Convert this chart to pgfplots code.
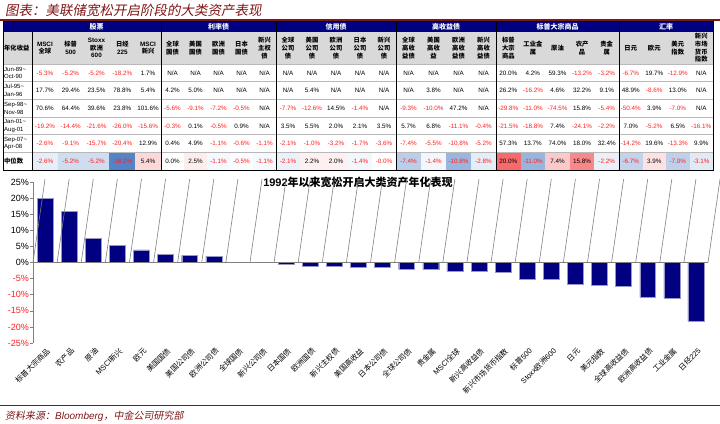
\documentclass[border=0pt]{standalone}
\usepackage{fontspec}
\setmainfont{Liberation Sans}
\newfontfamily\cjk{Noto Sans CJK SC}
\newfontfamily\cjksl[FakeSlant=0.18]{Noto Sans CJK SC}
\usepackage{pgfplots}
\pgfplotsset{compat=1.18}
\newcommand\zh[1]{{\cjk #1}}
\definecolor{hdrblue}{RGB}{0,0,128}
\definecolor{barblue}{RGB}{0,0,128}
\definecolor{titlered}{RGB}{128,22,22}
\definecolor{negblue}{RGB}{84,132,200}
\definecolor{posred}{RGB}{248,105,107}
\definecolor{hdrgray}{RGB}{217,217,217}
\definecolor{numred}{RGB}{255,30,30}
\newcommand\tabfont{\fontsize{6.3}{7}\selectfont}
\def\na{NA}
\def\isneg#1#2\relax{\if#1-\textcolor{numred}{#1#2\%}\else#1#2\%\fi}
\newcommand\valtext[1]{\def\tmp{#1}\ifx\tmp\na N/A\else\isneg#1\relax\fi}
\def\cxs{{44.9,70.7,96.5,122.3,148.1,172.5,195.5,218.5,241.5,264.5,288,312,336,360,384,408.5,433.5,458.5,483.5,508.3,532.9,557.5,582.1,606.7,630.75,654.25,677.75,701.25}}
\def\hws{{12.9,12.9,12.9,12.9,12.9,11.5,11.5,11.5,11.5,11.5,12,12,12,12,12,12.5,12.5,12.5,12.5,12.3,12.3,12.3,12.3,12.3,11.75,11.75,11.75,11.75}}
\newcommand\datarow[2]{%
  \foreach \v [count=\i from 0] in {#2}{%
    \pgfmathsetmacro\cx{\cxs[\i]}%
    \node[font=\tabfont, inner sep=0pt] at (\cx,#1) {\expandafter\valtext\expandafter{\v}};%
  }}
\newcommand\medfill[1]{%
  \foreach \v [count=\i from 0] in {#1}{%
    \pgfmathsetmacro\cx{\cxs[\i]}%
    \pgfmathsetmacro\hw{\hws[\i]}%
    \pgfmathtruncatemacro\pn{max(0,min(100,-100*(\v)/18.2))}%
    \pgfmathtruncatemacro\pp{max(0,min(100,100*(\v)/20))}%
    \ifnum\pn>0 \fill[negblue!\pn!white] (\cx-\hw,152.3) rectangle (\cx+\hw,170);\fi
    \ifnum\pp>0 \fill[posred!\pp!white] (\cx-\hw,152.3) rectangle (\cx+\hw,170);\fi
  }}
\begin{document}
\begin{tikzpicture}
\useasboundingbox (0,0) rectangle (720pt,-423pt);
% title and rules
\node[anchor=west, text=titlered, font=\cjksl\fontsize{13.5}{14}\selectfont, inner sep=0pt] at (5pt,-10pt) {图表：美联储宽松开启阶段的大类资产表现};
\draw[titlered, line width=1.2pt] (0pt,-20pt) -- (720pt,-20pt);
\draw[titlered, line width=1.5pt] (0pt,-405.5pt) -- (720pt,-405.5pt);
\node[anchor=west, text=titlered, font=\fontsize{10}{11}\selectfont, inner sep=0pt] at (5pt,-416pt) {\cjksl 资料来源：{\normalfont\itshape Bloomberg}，中金公司研究部};
\begin{scope}[x=1pt,y=-1pt]
 \fill[hdrblue] (3,21) rectangle (713,32);
 \fill[hdrgray] (3,32) rectangle (713,64);
 \medfill{-2.6,-5.2,-5.2,-18.2,5.4,0.0,2.5,-1.1,-0.5,-1.1,-2.1,2.2,2.0,-1.4,-0.0,-7.4,-1.4,-10.8,-2.8,20.0,-11.0,7.4,15.8,-2.2,-6.7,3.9,-7.0,-3.1}
 \foreach \yy in {64,81.7,99.3,117,134.7,152.3} \draw[gray!55, line width=0.5pt] (3,\yy) -- (713,\yy);
 \draw[black, line width=0.6pt] (32,32) -- (32,170);
 \foreach \xx in {161,276,396,496,619} \draw[black, line width=0.9pt] (\xx,21) -- (\xx,170);
 \draw[black, line width=0.8pt] (3,21) rectangle (713,170);
 % group headers
 \begin{scope}[every node/.style={text=white, font=\bfseries\fontsize{7}{8}\selectfont, inner sep=0pt}]
  \node at (96.5,26.5) {\zh{股票}};
  \node at (218.5,26.5) {\zh{利率债}};
  \node at (336,26.5) {\zh{信用债}};
  \node at (446,26.5) {\zh{高收益债}};
  \node at (557.5,26.5) {\zh{标普大宗商品}};
  \node at (666,26.5) {\zh{汇率}};
 \end{scope}
 % sub headers
 \begin{scope}[every node/.style={align=center, font=\bfseries\fontsize{6.3}{7.7}\selectfont, inner sep=0pt}]
  \node[anchor=west] at (4,48) {\zh{年化收益}};
  \node at (44.9,48) {MSCI\\\zh{全球}};
  \node at (70.7,48) {\zh{标普}\\500};
  \node at (96.5,48) {Stoxx\\\zh{欧洲}\\600};
  \node at (122.3,48) {\zh{日经}\\225};
  \node at (148.1,48) {MSCI\\\zh{新兴}};
  \node at (172.5,48) {\zh{全球}\\\zh{国债}};
  \node at (195.5,48) {\zh{美国}\\\zh{国债}};
  \node at (218.5,48) {\zh{欧洲}\\\zh{国债}};
  \node at (241.5,48) {\zh{日本}\\\zh{国债}};
  \node at (264.5,48) {\zh{新兴}\\\zh{主权}\\\zh{债}};
  \node at (288,48) {\zh{全球}\\\zh{公司}\\\zh{债}};
  \node at (312,48) {\zh{美国}\\\zh{公司}\\\zh{债}};
  \node at (336,48) {\zh{欧洲}\\\zh{公司}\\\zh{债}};
  \node at (360,48) {\zh{日本}\\\zh{公司}\\\zh{债}};
  \node at (384,48) {\zh{新兴}\\\zh{公司}\\\zh{债}};
  \node at (408.5,48) {\zh{全球}\\\zh{高收}\\\zh{益债}};
  \node at (433.5,48) {\zh{美国}\\\zh{高收}\\\zh{益}};
  \node at (458.5,48) {\zh{欧洲}\\\zh{高收}\\\zh{益债}};
  \node at (483.5,48) {\zh{新兴}\\\zh{高收}\\\zh{益债}};
  \node at (508.3,48) {\zh{标普}\\\zh{大宗}\\\zh{商品}};
  \node at (532.9,48) {\zh{工业金}\\\zh{属}};
  \node at (557.5,48) {\zh{原油}};
  \node at (582.1,48) {\zh{农产}\\\zh{品}};
  \node at (606.7,48) {\zh{贵金}\\\zh{属}};
  \node at (630.75,48) {\zh{日元}};
  \node at (654.25,48) {\zh{欧元}};
  \node at (677.75,48) {\zh{美元}\\\zh{指数}};
  \node at (701.25,48) {\zh{新兴}\\\zh{市场}\\\zh{货币}\\\zh{指数}};
 \end{scope}
 % row labels
 \begin{scope}[every node/.style={anchor=west, align=left, font=\fontsize{6}{7.6}\selectfont, inner sep=0pt}]
  \node at (4,72.85) {Jun-89\textasciitilde\\Oct-90};
  \node at (4,90.5) {Jul-95\textasciitilde\\Jan-96};
  \node at (4,108.15) {Sep-98\textasciitilde\\Nov-98};
  \node at (4,125.85) {Jan-01\textasciitilde\\Aug-01};
  \node at (4,143.5) {Sep-07\textasciitilde\\Apr-08};
  \node[font=\bfseries\fontsize{6.3}{7}\selectfont] at (4,161.15) {\zh{中位数}};
 \end{scope}
 \datarow{72.85}{-5.3,-5.2,-5.2,-18.2,1.7,NA,NA,NA,NA,NA,NA,NA,NA,NA,NA,NA,NA,NA,NA,20.0,4.2,59.3,-13.2,-3.2,-6.7,19.7,-12.9,NA}
 \datarow{90.5}{17.7,29.4,23.5,78.8,5.4,4.2,5.0,NA,NA,NA,NA,5.4,NA,NA,NA,NA,3.8,NA,NA,26.2,-16.2,4.6,32.2,9.1,48.9,-8.6,13.0,NA}
 \datarow{108.15}{70.6,64.4,39.6,23.8,101.6,-5.6,-9.1,-7.2,-0.5,NA,-7.7,-12.6,14.5,-1.4,NA,-9.3,-10.0,47.2,NA,-29.8,-11.0,-74.5,15.8,-5.4,-50.4,3.9,-7.0,NA}
 \datarow{125.85}{-19.2,-14.4,-21.6,-26.0,-15.6,-0.3,0.1,-0.5,0.9,NA,3.5,5.5,2.0,2.1,3.5,5.7,6.8,-11.1,-0.4,-21.5,-18.8,7.4,-24.1,-2.2,7.0,-5.2,6.5,-16.1}
 \datarow{143.5}{-2.6,-9.1,-15.7,-20.4,12.9,0.4,4.9,-1.1,-0.6,-1.1,-2.1,-1.0,-3.2,-1.7,-3.6,-7.4,-5.5,-10.8,-5.2,57.3,13.7,74.0,18.0,32.4,-14.2,19.6,-13.3,9.9}
 \datarow{161.15}{-2.6,-5.2,-5.2,-18.2,5.4,0.0,2.5,-1.1,-0.5,-1.1,-2.1,2.2,2.0,-1.4,-0.0,-7.4,-1.4,-10.8,-2.8,20.0,-11.0,7.4,15.8,-2.2,-6.7,3.9,-7.0,-3.1}
\end{scope}
% chart title
\node[font=\bfseries\fontsize{11}{12}\selectfont, inner sep=0pt] at (358pt,-182pt) {1992\zh{年以来宽松开启大类资产年化表现}};
\begin{axis}[
  at={(33pt,-343pt)}, anchor=south west,
  scale only axis, width=675pt, height=161pt,
  xmin=-0.5, xmax=27.5, ymin=-25, ymax=25,
  axis y line*=left, axis x line*=bottom,
  x axis line style={draw=none},
  y axis line style={draw=gray, line width=0.6pt},
  tick align=outside, major tick length=3pt,
  ytick={-25,-20,...,25},
  yticklabels={\textcolor{numred}{-25\%},\textcolor{numred}{-20\%},\textcolor{numred}{-15\%},\textcolor{numred}{-10\%},\textcolor{numred}{-5\%},0\%,5\%,10\%,15\%,20\%,25\%},
  ytick style={draw=gray, line width=0.6pt},
  yticklabel style={font=\fontsize{9}{10}\selectfont, inner sep=1pt},
  xtick={0,...,27},
  xticklabels={\zh{标普大宗商品},\zh{农产品},\zh{原油},MSCI\zh{新兴},\zh{欧元},\zh{美国国债},\zh{美国公司债},\zh{欧洲公司债},\zh{全球国债},\zh{新兴公司债},\zh{日本国债},\zh{欧洲国债},\zh{新兴主权债},\zh{美国高收益},\zh{日本公司债},\zh{全球公司债},\zh{贵金属},MSCI\zh{全球},\zh{新兴高收益债},\zh{新兴市场货币指数},\zh{标普}500,Stoxx\zh{欧洲}600,\zh{日元},\zh{美元指数},\zh{全球高收益债},\zh{欧洲高收益债},\zh{工业金属},\zh{日经}225},
  xtick style={draw=none},
  xticklabel style={rotate=45, anchor=east, font=\fontsize{7.5}{8}\selectfont, inner sep=0pt, yshift=-5pt},
  ybar, bar width=0.66,
  clip=false,
]
\addplot[ybar, fill=barblue, draw={rgb,255:red,150;green,150;blue,200}, line width=0.4pt, bar shift=0pt] coordinates {
(0,20.0) (1,15.8) (2,7.4) (3,5.4) (4,3.9) (5,2.5) (6,2.2) (7,2.0) (8,0.0) (9,-0.05)
(10,-0.5) (11,-1.1) (12,-1.1) (13,-1.4) (14,-1.4) (15,-2.1) (16,-2.2) (17,-2.6) (18,-2.8) (19,-3.1)
(20,-5.2) (21,-5.2) (22,-6.7) (23,-7.0) (24,-7.4) (25,-10.8) (26,-11.0) (27,-18.2)};
\draw[gray, line width=0.6pt] (axis cs:-0.5,0) -- (axis cs:27.5,0);
\pgfplotsinvokeforeach{-0.5,0.5,...,27.5}{\draw[gray, line width=0.6pt] (axis cs:#1,0) -- ++(0,3pt);}
\end{axis}
\end{tikzpicture}
\end{document}
